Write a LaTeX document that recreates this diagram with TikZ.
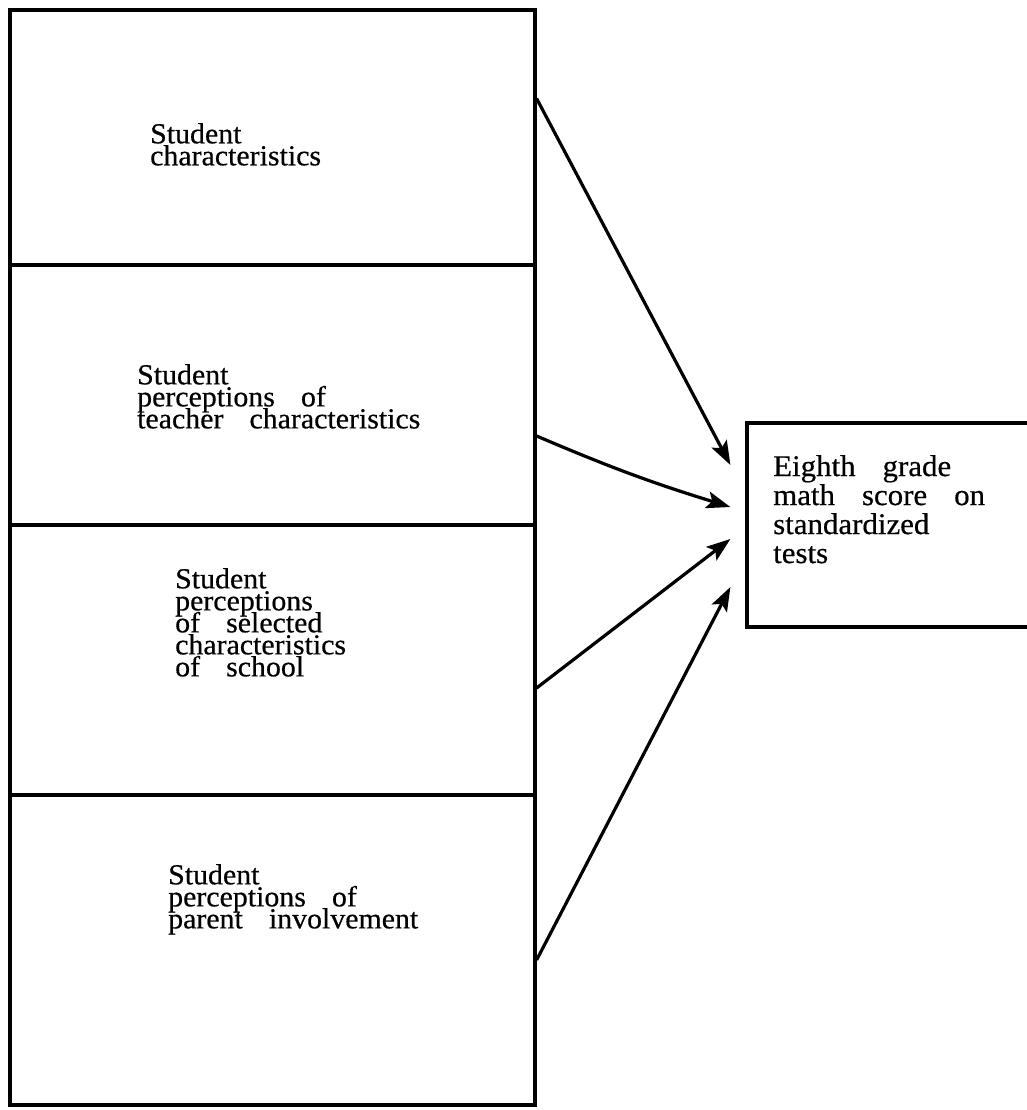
\documentclass[tikz,border=0pt]{standalone}
\usepackage{fontspec}
\setmainfont{Liberation Serif}[FakeStretch=1.03,FakeBold=0.5]
\usetikzlibrary{arrows.meta}
\newcommand{\wsp}{\hspace{0.9em}}

\begin{document}
\begin{tikzpicture}[x=1pt,y=-1pt,
	box/.style={draw, line width=3.2pt, inner sep=0pt},
	txt/.style={anchor=north west, inner sep=0pt, align=left, font={\fontsize{29}{22}\selectfont\lineskiplimit=-\maxdimen}},
	arr/.style={-{Stealth[length=24pt,width=17pt,inset=5pt]}, line width=3.2pt}]
	\useasboundingbox (0,0) rectangle (1027,1110);
	% left column
	\node[box, minimum width=525pt, minimum height=255pt] (b1) at (272.5,137.5) {};
	\node[box, minimum width=525pt, minimum height=260pt] (b2) at (272.5,395) {};
	\node[box, minimum width=525pt, minimum height=270pt] (b3) at (272.5,660) {};
	\node[box, minimum width=525pt, minimum height=310pt] (b4) at (272.5,950) {};
	\node[txt] (t1) at (150,123) {Student\\characteristics};
	\node[txt] (t2) at (137,364) {Student\\perceptions\wsp of\\teacher\wsp characteristics};
	\node[txt] (t3) at (175,568) {Student\\perceptions\\of\wsp selected\\characteristics\\of\wsp school};
	\node[txt] (t4) at (168,864) {Student\\perceptions\wsp of\\parent\wsp involvement};
	% outcome
	\node[box, minimum width=293pt, minimum height=204pt] (score) at (893.5,525) {};
	\node[txt, font={\fontsize{30}{29}\selectfont}] (t5) at (773,455) {Eighth\wsp grade\\math\wsp score\wsp on\\standardized\\tests};
	% arrows
	\draw[arr] ([yshift=39pt]b1.east) -- ([xshift=-15pt,yshift=60pt]score.west);
	\draw[arr] ([yshift=-41pt]b2.east) to[bend right=3] ([xshift=-15pt,yshift=18pt]score.west);
	\draw[arr] ([yshift=-28pt]b3.east) -- ([xshift=-15pt,yshift=-14pt]score.west);
	\draw[arr] ([yshift=-10pt]b4.east) -- ([xshift=-15pt,yshift=-62pt]score.west);
\end{tikzpicture}
\end{document}
